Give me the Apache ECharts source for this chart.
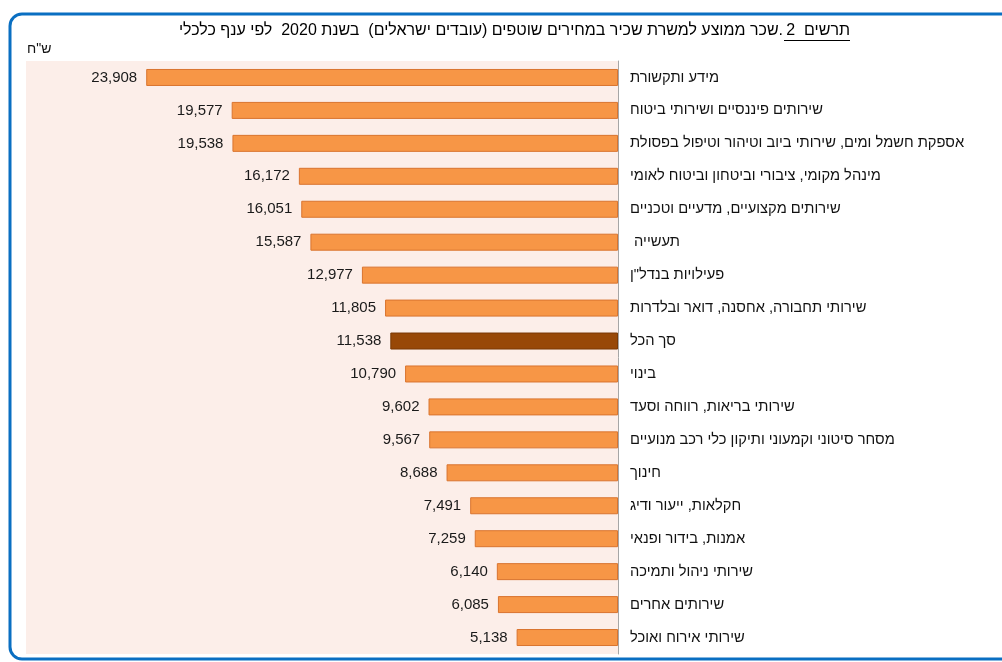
<!DOCTYPE html>
<html dir="rtl">
<head>
<meta charset="utf-8">
<script src="https://cdn.jsdelivr.net/npm/echarts@6/dist/echarts.min.js"></script>
<style>html,body{margin:0;padding:0;background:#fff;}#c{width:1002px;height:662px;}</style>
</head>
<body>
<div id="c"></div>
<script>
const categories = ['מידע ותקשורת','שירותים פיננסיים ושירותי ביטוח','אספקת חשמל ומים, שירותי ביוב וטיהור וטיפול בפסולת','מינהל מקומי, ציבורי וביטחון וביטוח לאומי','שירותים מקצועיים, מדעיים וטכניים','תעשייה ','פעילויות בנדל"ן','שירותי תחבורה, אחסנה, דואר ובלדרות','סך הכל','בינוי','שירותי בריאות, רווחה וסעד','מסחר סיטוני וקמעוני ותיקון כלי רכב מנועיים','חינוך','חקלאות, ייעור ודיג','אמנות, בידור ופנאי','שירותי ניהול ותמיכה','שירותים אחרים','שירותי אירוח ואוכל'];
const values = [23908,19577,19538,16172,16051,15587,12977,11805,11538,10790,9602,9567,8688,7491,7259,6140,6085,5138];
const highlightCategory = 'סך הכל';
const titleLead = 'תרשים  2';
const titleRest = '.שכר ממוצע למשרת שכיר במחירים שוטפים (עובדים ישראלים)  בשנת 2020  לפי ענף כלכלי';
const unitLabel = 'ש"ח';

const FONT = 'Arial, "Liberation Sans", sans-serif';
const chart = echarts.init(document.getElementById('c'), null, {renderer:'canvas'});
const seriesData = values.map((v,i)=> categories[i] === highlightCategory
  ? {value:v, itemStyle:{color:'#984807', borderColor:'#7A3905'}}
  : v);
chart.setOption({
  animation:false,
  backgroundColor:'#ffffff',
  grid:{left:26, right:384, top:61, bottom:8, show:true, backgroundColor:'#FCEEE9', borderWidth:0},
  xAxis:{type:'value', min:0, max:30000, inverse:true, axisLabel:{show:false}, splitLine:{show:false}, axisLine:{show:false}, axisTick:{show:false}},
  yAxis:{type:'category', data:categories, inverse:true, position:'right',
    axisLine:{show:true, lineStyle:{color:'#A6A6A6', width:1}},
    axisTick:{show:false},
    axisLabel:{margin:12, fontSize:14.7, color:'#111', fontFamily:FONT}},
  series:[{type:'bar', data:seriesData, barWidth:17,
    itemStyle:{color:'#F79646', borderColor:'#D9742F', borderWidth:1},
    label:{show:true, position:'left', distance:9, fontSize:15, color:'#1a1a1a', fontFamily:FONT,
      formatter:p=>Number(p.value).toLocaleString('en-US')}}],
  graphic:[
    {type:'rect', z:-1, shape:{x:10, y:14, width:1010, height:645, r:12}, style:{fill:'none', stroke:'#0A6FC2', lineWidth:3}},
    {type:'text', x:850, y:31, style:{text:titleLead, fontSize:16, fontFamily:FONT, fill:'#000', align:'right', verticalAlign:'middle'}},
    {type:'line', shape:{x1:784, y1:40.5, x2:850, y2:40.5}, style:{stroke:'#000', lineWidth:1}},
    {type:'text', x:783, y:31, style:{text:titleRest, fontSize:16, fontFamily:FONT, fill:'#000', align:'right', verticalAlign:'middle'}},
    {type:'text', x:27, y:49, style:{text:unitLabel, fontSize:14, fontFamily:FONT, fill:'#111', align:'left', verticalAlign:'middle'}}
  ]
});
</script>
</body>
</html>
